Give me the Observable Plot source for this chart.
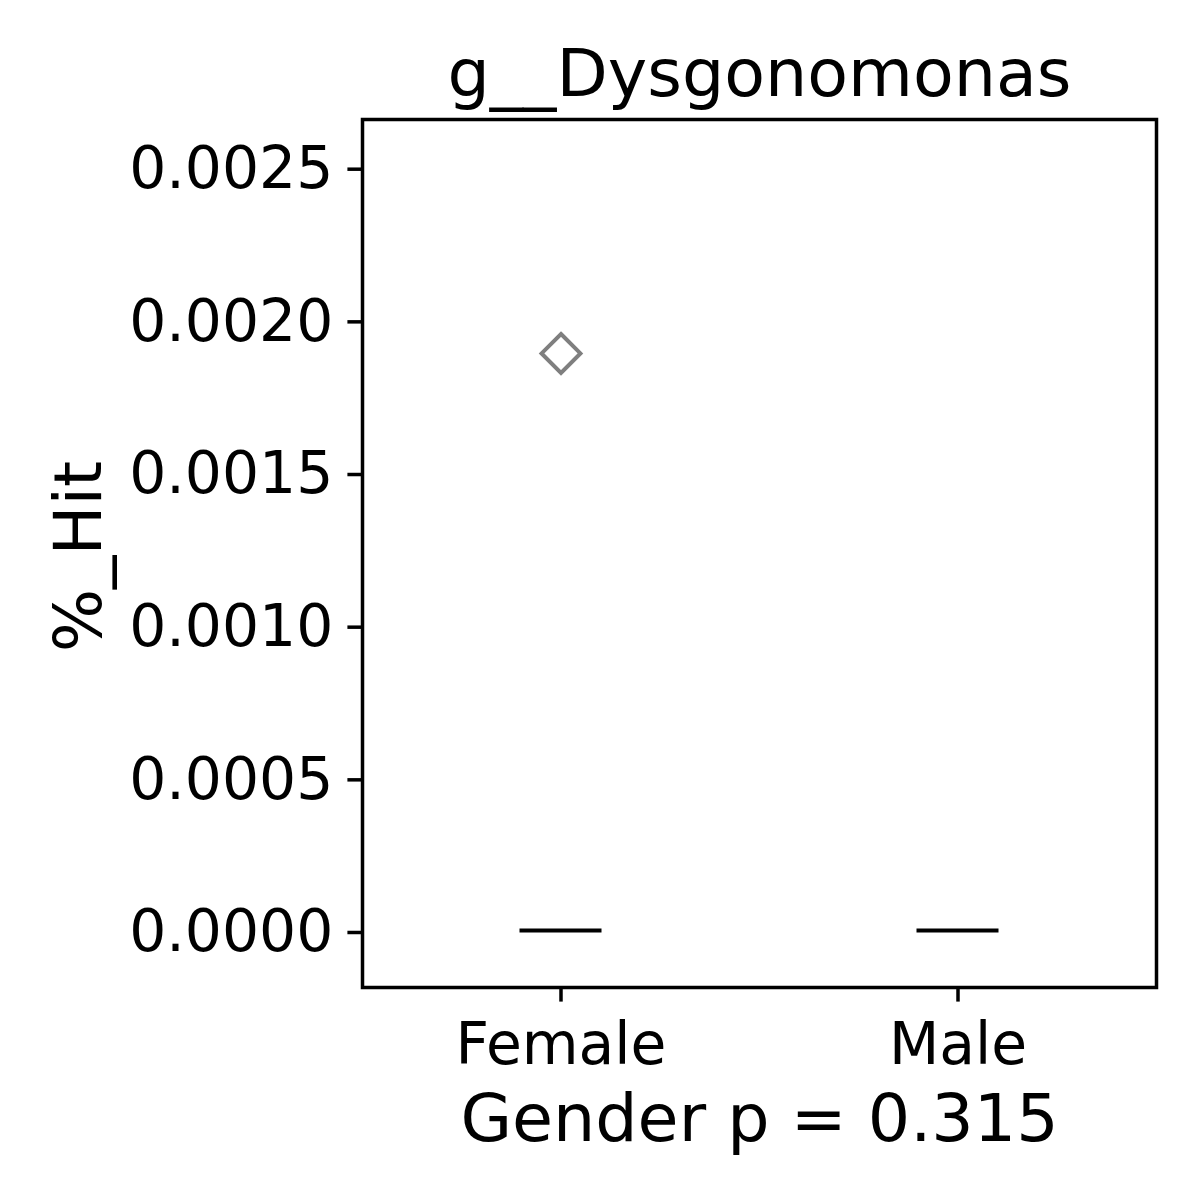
<!DOCTYPE html>
<html>
<head>
<meta charset="utf-8">
<script src="https://cdn.jsdelivr.net/npm/d3@7"></script>
<script src="https://cdn.jsdelivr.net/npm/@observablehq/plot@0.6"></script>
<style>
  html, body { margin: 0; padding: 0; background: white; }
  #chart svg { display: block; }
</style>
</head>
<body>
<div id="chart"></div>
<script>
// ---- data ----
const categories = ["Female", "Male"];
const medians = [0, 0];
const q1s = [0, 0];
const q3s = [0, 0];
const outlierGroups = ["Female"];
const outlierValues = [0.00189];
const yTicks = [0, 0.0005, 0.0010, 0.0015, 0.0020, 0.0025];
const titleText = "g__Dysgonomonas";
const xLabelText = "Gender p = 0.315";
const yLabelText = "%_Hit";

const boxes = categories.map((c, i) => ({group: c, q1: q1s[i], median: medians[i], q3: q3s[i]}));
const outliers = outlierGroups.map((g, i) => ({group: g, value: outlierValues[i]}));

const FS = 58.33, FL = 66.67, LW = 3.5, TL = 14.6;
const inset = 157.5;

const chart = Plot.plot({
  width: 1200,
  height: 1200,
  marginLeft: 362,
  marginRight: 44,
  marginTop: 119,
  marginBottom: 213,
  style: {fontFamily: "DejaVu Sans", fontSize: FS + "px", color: "black", background: "white", overflow: "visible"},
  x: {type: "band", domain: categories, padding: 0, label: null},
  y: {domain: [-0.0001867, 0.0026562], label: null},
  marks: [
    Plot.axisY({ticks: yTicks, tickFormat: d3.format(".4f"), tickSize: TL, tickPadding: TL, strokeWidth: LW, fontSize: FS, label: null, dy: 2}),
    Plot.axisX({tickSize: TL, tickPadding: 20, strokeWidth: LW, fontSize: FS, label: null}),
    Plot.barY(boxes, {x: "group", y1: "q1", y2: "q3", insetLeft: inset, insetRight: inset, fill: "none", stroke: "black", strokeWidth: 4}),
    Plot.tickY(boxes, {x: "group", y: "median", insetLeft: inset, insetRight: inset, stroke: "black", strokeWidth: 4}),
    Plot.dot(outliers, {x: "group", y: "value", symbol: "diamond2", r: 17.5, stroke: "#7f7f7f", strokeWidth: 4, fill: "none"}),
    Plot.frame({stroke: "black", strokeWidth: LW}),
    Plot.text([titleText], {frameAnchor: "top", lineAnchor: "bottom", dy: -24, fontSize: FL, fill: "black", text: d => d}),
    Plot.text([xLabelText], {frameAnchor: "bottom", lineAnchor: "bottom", dy: 153, fontSize: FL, fill: "black", text: d => d}),
    Plot.text([yLabelText], {frameAnchor: "left", lineAnchor: "bottom", textAnchor: "middle", rotate: -90, dx: -262, dy: 3, fontSize: FL, fill: "black", text: d => d})
  ]
});
document.getElementById("chart").appendChild(chart);
</script>
</body>
</html>
